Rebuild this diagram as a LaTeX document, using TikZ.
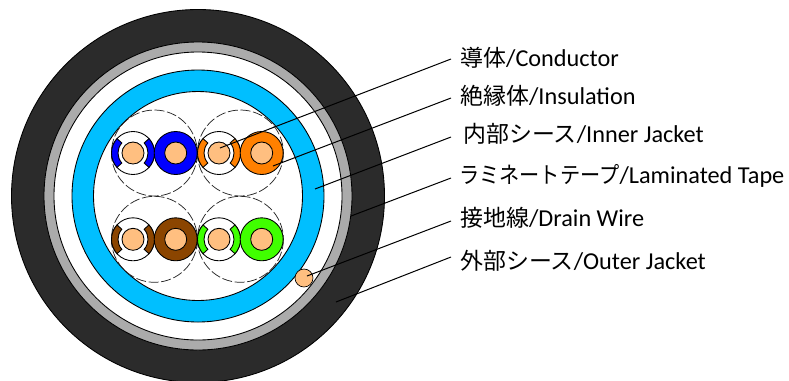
\documentclass[tikz,border=0pt]{standalone}
\usepackage{fontspec}
\setmainfont{Carlito}
\newfontfamily\jpf{Noto Sans CJK JP}
\newfontfamily\jpn[FakeStretch=0.88]{Noto Sans CJK JP}
\definecolor{jacket}{HTML}{2B2B2B}
\definecolor{tape}{HTML}{ABABAB}
\definecolor{skyb}{HTML}{00BFFF}
\definecolor{cond}{HTML}{FFBF80}
\definecolor{orgw}{HTML}{FF8000}
\definecolor{brnw}{HTML}{8B4500}
\definecolor{grnw}{HTML}{40FF00}
\definecolor{bluw}{HTML}{0000FF}
\tikzset{
  ring/.style={draw=black,line width=0.65pt},
  cdr/.style={draw=black,line width=0.65pt,fill=cond},
  twist/.style={draw=black!85,line width=0.55pt,dash pattern=on 7.5pt off 2pt},
  leader/.style={draw=black,line width=0.75pt},
  lab/.style={anchor=base west,inner sep=0pt,font=\fontsize{18.2pt}{20pt}\selectfont},
}
\newcommand{\jt}[1]{{\fontsize{17.2pt}{20pt}\selectfont\jpf #1}}
\newcommand{\jn}[1]{{\fontsize{17.2pt}{20pt}\selectfont\jpn #1}}
% solid core at #1, colour #2
\newcommand{\solidcore}[2]{%
  \fill[ring,fill=#2] (#1) circle[radius=21.5];
  \fill[cdr] (#1) circle[radius=11];
}
% white core with two coloured side stripes at #1, colour #2
\newcommand{\stripecore}[2]{%
  \fill[ring,fill=white] (#1) circle[radius=21.5];
  \fill[ring,fill=#2] (#1) ++(138:21.5) arc[start angle=138,end angle=222,radius=21.5]
     -- ($(#1)+(222:15)$) arc[start angle=222,end angle=138,radius=15] -- cycle;
  \fill[ring,fill=#2] (#1) ++(-42:21.5) arc[start angle=-42,end angle=42,radius=21.5]
     -- ($(#1)+(42:15)$) arc[start angle=42,end angle=-42,radius=15] -- cycle;
  \fill[cdr] (#1) circle[radius=11];
}
\usetikzlibrary{calc}
\begin{document}
\begin{tikzpicture}[x=0.75pt,y=-0.75pt]
\useasboundingbox (0,0) rectangle (789,380);
\coordinate (c) at (198,196);
\begin{scope}
\clip (0,0) rectangle (789,380);
\fill[ring,fill=jacket] (c) circle[radius=186.5];
\end{scope}
\fill[ring,fill=tape] (c) circle[radius=154];
\fill[ring,fill=white] (c) circle[radius=144];
\fill[ring,fill=skyb] (c) circle[radius=126];
\fill[ring,fill=white] (c) circle[radius=104.5];
% twisted pair outlines
\coordinate (p1) at (154.4,153);
\coordinate (p2) at (240.4,153);
\coordinate (p3) at (154.4,239.3);
\coordinate (p4) at (240.4,239.3);
\foreach \p in {p1,p2,p3,p4} \draw[twist] (\p) circle[radius=43];
% cores
\coordinate (a1) at (133,153);
\coordinate (a2) at (175.7,153);
\coordinate (b1) at (219,153);
\coordinate (b2) at (261.7,153);
\coordinate (d1) at (133,239.3);
\coordinate (d2) at (175.7,239.3);
\coordinate (e1) at (219,239.3);
\coordinate (e2) at (261.7,239.3);
\stripecore{a1}{bluw}
\solidcore{a2}{bluw}
\stripecore{b1}{orgw}
\solidcore{b2}{orgw}
\stripecore{d1}{brnw}
\solidcore{d2}{brnw}
\stripecore{e1}{grnw}
\solidcore{e2}{grnw}
% drain wire
\coordinate (dw) at (304,278);
\fill[ring,fill=cond,line width=0.5pt] (dw) circle[radius=9];
% labels
\node[lab] (lc) at (460,66) {\jt{導体}/Conductor};
\node[lab] (li) at (460,104) {\jt{絶縁体}/Insulation};
\node[lab] (lj) at (463,142) {\jt{内部シース}/Inner Jacket};
\node[lab] (lt) at (459,183) {\jn{ラミネートテープ}/Laminated Tape};
\node[lab] (ld) at (460,226) {\jt{接地線}/Drain Wire};
\node[lab] (lo) at (460,269) {\jt{外部シース}/Outer Jacket};
% leader ends
\coordinate (s1) at (451,59);   \coordinate (t1) at (220,148);
\coordinate (s2) at (451,98);   \coordinate (t2) at (273,166);
\coordinate (s3) at (451,137);  \coordinate (t3) at (315,189);
\coordinate (s4) at (451,178);  \coordinate (t4) at (351,216);
\coordinate (s5) at (451,221);  \coordinate (t5) at (307,276);
\coordinate (s6) at (451,257);  \coordinate (t6) at (336,302);
\foreach \i in {1,...,6} \draw[leader] (s\i) -- (t\i);
\end{tikzpicture}
\end{document}
